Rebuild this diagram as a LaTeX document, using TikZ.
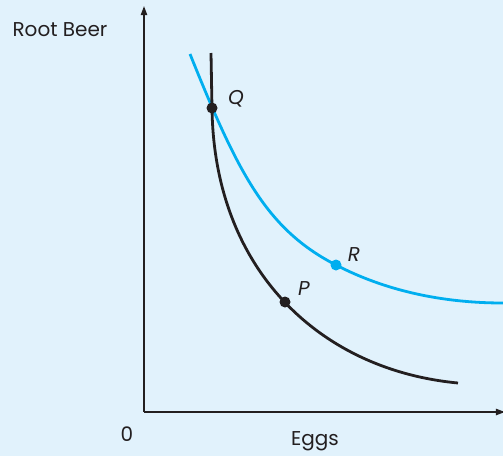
\documentclass[tikz,border=0pt]{standalone}
\usepackage{fontspec}
\setmainfont{Poppins}
\usetikzlibrary{arrows.meta}
\definecolor{panelbg}{HTML}{E1F2FC}
\definecolor{curveblue}{HTML}{00AEEF}
\definecolor{inkblack}{HTML}{231F20}

\begin{document}
\begin{tikzpicture}[x=1pt,y=-1pt]
\tikzset{
  axisline/.style={draw=inkblack,line width=1.6pt,-{Triangle[length=3.2mm,width=2.2mm]}},
  curveline/.style={line width=2.8pt,line cap=butt,line join=round},
  pointdot/.style={circle,fill=#1,inner sep=0pt,minimum size=11pt},
  axislabel/.style={text=inkblack,font=\fontsize{20}{24}\selectfont},
  pointlabel/.style={text=inkblack,font=\fontsize{20}{24}\selectfont\itshape}
}
\fill[panelbg] (0,0) rectangle (503,456);
\useasboundingbox (0,0) rectangle (503,456);
% axes
\coordinate (origin) at (144,412);
\coordinate (ytip) at (144,6);
\coordinate (xtip) at (505,412);
\draw[axisline] (origin) -- (ytip);
\draw[axisline] (origin) -- (xtip);
% points on the curves
\coordinate (Q) at (212,108);
\coordinate (P) at (285,302);
\coordinate (R) at (336,265);
\coordinate (blue_top) at (190,54);
\coordinate (blue_end) at (503,303);
\coordinate (black_top) at (211,53);
\coordinate (black_end) at (458,383);
% blue curve
\draw[curveline,curveblue] (blue_top) .. controls (238,173) and (266,229) .. (R)
  .. controls (386,291) and (443,303) .. (blue_end);
% black curve
\draw[curveline,inkblack] (black_top) -- (Q)
  .. controls (214,270) and (320,370) .. (black_end);
\node[pointdot=curveblue] (dot_R) at (R) {};
\node[pointdot=inkblack] (dot_Q) at (Q) {};
\node[pointdot=inkblack] (dot_P) at (P) {};
% labels
\node[pointlabel] (lab_Q) at (236,99) {Q};
\node[pointlabel] (lab_R) at (354,255) {R};
\node[pointlabel] (lab_P) at (304,289) {P};
\node[axislabel] (lab_rootbeer) at (60,30) {Root Beer};
\node[axislabel] (lab_zero) at (127,434) {0};
\node[axislabel] (lab_eggs) at (315,441) {Eggs};
\end{tikzpicture}
\end{document}
